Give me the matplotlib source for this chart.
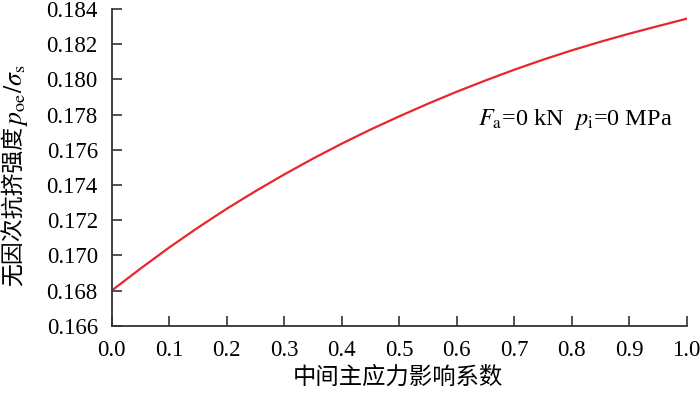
import matplotlib
matplotlib.use('Agg')
import matplotlib.pyplot as plt

# coefficient of intermediate principal stress vs dimensionless collapse strength
coef = [0.00, 0.05, 0.10, 0.15, 0.20, 0.25, 0.30, 0.35, 0.40, 0.45, 0.50,
        0.55, 0.60, 0.65, 0.70, 0.75, 0.80, 0.85, 0.90, 0.95, 1.00]
strength = [0.16800, 0.16925, 0.17045, 0.17158, 0.17265, 0.17365, 0.17460,
            0.17550, 0.17635, 0.17715, 0.17790, 0.17862, 0.17930, 0.17994,
            0.18055, 0.18112, 0.18165, 0.18214, 0.18260, 0.18303, 0.18345]

x_ticks = [0.0, 0.1, 0.2, 0.3, 0.4, 0.5, 0.6, 0.7, 0.8, 0.9, 1.0]
y_ticks = [0.166, 0.168, 0.170, 0.172, 0.174, 0.176, 0.178, 0.180, 0.182, 0.184]

plt.rcParams['font.family'] = ['Liberation Serif', 'DejaVu Serif']
plt.rcParams['mathtext.fontset'] = 'stix'

cjk = ['Noto Sans CJK SC', 'Liberation Serif']
spine_color = '#333333'
W, H = 700, 393

fig = plt.figure(figsize=(7, 3.93), dpi=100)
ax = fig.add_axes([0.1596, 0.171, 0.8214, 0.806])

ax.plot(coef, strength, color='#e8262c', linewidth=1.6)

ax.set_xlim(0.0, 1.0)
ax.set_ylim(0.166, 0.184)
ax.set_xticks(x_ticks)
ax.set_xticklabels([f'{v:.1f}' for v in x_ticks])
ax.set_yticks(y_ticks)
ax.set_yticklabels([f'{v:.3f}' for v in y_ticks])

for side in ['top', 'right']:
    ax.spines[side].set_visible(False)
for side in ['left', 'bottom']:
    ax.spines[side].set_color(spine_color)
    ax.spines[side].set_linewidth(1.3)

ax.tick_params(direction='in', length=7, width=1.2, color=spine_color,
               labelsize=16.5, pad=10)

# axis titles, placed in figure pixels
fig.text(398 / W, 1 - 377 / H, '中间主应力影响系数', family=cjk,
         fontsize=16.8, ha='center', va='center')
fig.text(14 / W, 1 - 286 / H, '无因次抗挤强度', family=cjk, fontsize=16.5,
         rotation=90, ha='center', va='bottom')
fig.text(16 / W, 1 - 126 / H, '$p_{\\rm oe}/\\sigma_{\\rm s}$', fontsize=18.5,
         rotation=90, ha='center', va='bottom')

ax.text(0.637, 0.1777, '$F_{\\rm a}$=0 kN  $p_{\\rm i}$=0 MPa',
        fontsize=17.5, ha='left', va='center')

fig.savefig('out.png', dpi=100)
